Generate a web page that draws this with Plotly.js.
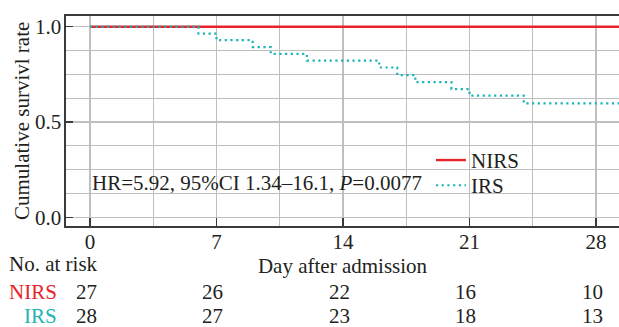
<!DOCTYPE html>
<html>
<head>
<meta charset="utf-8">
<script src="https://cdn.plot.ly/plotly-3.0.1.min.js"></script>
<style>
html, body { margin: 0; padding: 0; overflow: hidden; background: #fff; }
#chart { width: 619px; height: 327px; }
</style>
</head>
<body>
<div id="chart"></div>
<script>
// ---- data ----
const nirsDays = [0, 29.5];
const nirsSurv = [1, 1];
const irsDays = [0, 6, 7, 9, 10, 12, 16, 17, 18, 20, 21, 24, 29.5];
const irsSurv = [1, 0.964, 0.929, 0.893, 0.857, 0.822, 0.786, 0.746, 0.709, 0.672, 0.638, 0.598, 0.598];
const riskDays = [0, 7, 14, 21, 28];
const nirsRisk = [27, 26, 22, 16, 10];
const irsRisk = [28, 27, 23, 18, 13];
const groupNames = ['NIRS', 'IRS'];
const hrText = 'HR=5.92, 95%CI 1.34\u201316.1, <i>P</i>=0.0077';

// ---- style ----
const FONT = 'Liberation Serif, Times New Roman, serif';
const TXT = '#231f20';
const RED = '#e8242b';
const TEAL = '#1cb4b6';
const GRID = '#bfbfbf';
const AX = '#3a3a3a';

const traces = [
  {
    x: nirsDays, y: nirsSurv, name: groupNames[0], type: 'scatter', mode: 'lines', legend: 'legend',
    line: { shape: 'hv', color: RED, width: 2.4 }
  },
  {
    x: irsDays, y: irsSurv, name: groupNames[1], type: 'scatter', mode: 'lines', legend: 'legend2',
    line: { shape: 'hv', color: TEAL, width: 2.2, dash: '2.2px,3.5px' }
  }
];

const annotations = [
  { text: hrText, xref: 'x', yref: 'y', x: 0, y: 0.18, xanchor: 'left', yanchor: 'middle',
    showarrow: false, font: { family: FONT, size: 21, color: TXT } },
  { text: 'Cumulative survivl rate', xref: 'paper', yref: 'paper', x: -0.0796, y: 0.5, textangle: -90,
    xanchor: 'center', yanchor: 'middle', showarrow: false, font: { family: FONT, size: 21, color: TXT } },
  { text: 'No. at risk', xref: 'paper', yref: 'paper', x: -0.106, y: -0.182,
    xanchor: 'left', yanchor: 'middle', showarrow: false, font: { family: FONT, size: 21, color: TXT } },
  { text: groupNames[0], xref: 'paper', yref: 'paper', x: -0.012, y: -0.313,
    xanchor: 'right', yanchor: 'middle', showarrow: false, font: { family: FONT, size: 21, color: RED } },
  { text: groupNames[1], xref: 'paper', yref: 'paper', x: -0.012, y: -0.427,
    xanchor: 'right', yanchor: 'middle', showarrow: false, font: { family: FONT, size: 21, color: TEAL } }
];
riskDays.forEach((d, i) => {
  annotations.push({ text: String(nirsRisk[i]), xref: 'x', yref: 'paper', x: d, y: -0.313, xshift: -4,
    xanchor: 'center', yanchor: 'middle', showarrow: false, font: { family: FONT, size: 21, color: TXT } });
  annotations.push({ text: String(irsRisk[i]), xref: 'x', yref: 'paper', x: d, y: -0.427, xshift: -4,
    xanchor: 'center', yanchor: 'middle', showarrow: false, font: { family: FONT, size: 21, color: TXT } });
});

const legendStyle = (yTop) => ({
  x: 0.66, y: yTop, xanchor: 'left', yanchor: 'top',
  bgcolor: 'rgba(0,0,0,0)', borderwidth: 0,
  font: { family: FONT, size: 21, color: TXT },
  itemwidth: 30
});

const layout = {
  width: 619, height: 327,
  margin: { l: 66, r: 0, t: 16, b: 101, pad: 0 },
  paper_bgcolor: '#fff', plot_bgcolor: '#fff',
  font: { family: FONT, size: 21, color: TXT },
  showlegend: true,
  legend: legendStyle(0.41),
  legend2: legendStyle(0.29),
  xaxis: {
    range: [-1.328, 29.27], tickmode: 'array', tickvals: riskDays, ticktext: riskDays.map(String),
    showgrid: true, gridcolor: GRID, gridwidth: 1.2, zeroline: false,
    showline: true, linecolor: AX, linewidth: 1.6, mirror: true,
    ticks: 'inside', ticklen: 8, tickwidth: 1.5, tickcolor: AX,
    tickfont: { family: FONT, size: 21, color: TXT },
    ticklabelstandoff: -4,
    minor: { dtick: 3.5, tick0: 0, showgrid: true, gridcolor: GRID, gridwidth: 1.2, ticks: '' },
    title: { text: 'Day after admission', font: { family: FONT, size: 21, color: TXT }, standoff: 2 }
  },
  yaxis: {
    range: [-0.0457, 1.0561], tickmode: 'array', tickvals: [0, 0.5, 1], ticktext: ['0.0', '0.5', '1.0'],
    showgrid: true, gridcolor: GRID, gridwidth: 1.2, zeroline: false,
    showline: true, linecolor: AX, linewidth: 1.6, mirror: false,
    ticks: 'inside', ticklen: 7, tickwidth: 1.5, tickcolor: AX,
    tickfont: { family: FONT, size: 21, color: TXT },
    ticklabelstandoff: -1,
    minor: { dtick: 0.125, tick0: 0, showgrid: true, gridcolor: GRID, gridwidth: 1.2, ticks: '' }
  },
  annotations: annotations
};

Plotly.newPlot('chart', traces, layout, { staticPlot: true, displayModeBar: false });
</script>
</body>
</html>
